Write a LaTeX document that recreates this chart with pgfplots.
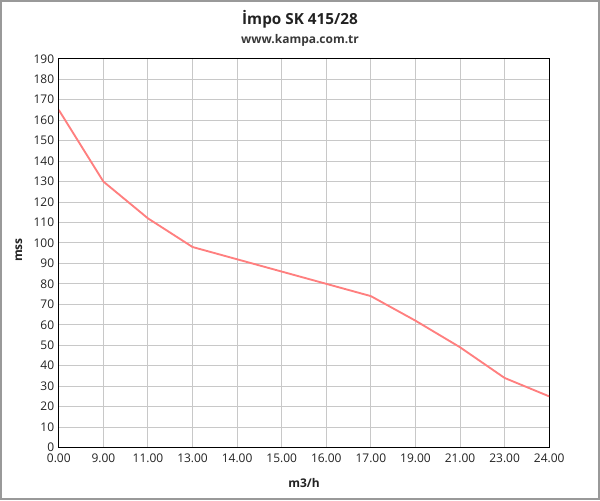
\documentclass[border=0pt]{standalone}
\usepackage{pgfplots}
\pgfplotsset{compat=1.18}
\usepackage{fontspec}
\setmainfont{Open Sans}
\definecolor{linered}{HTML}{FF7F7F}
\definecolor{gridgray}{HTML}{C8C8C8}
\definecolor{txt}{HTML}{222222}
\begin{document}
\begin{tikzpicture}
\draw[gray!80, line width=1.5pt] (0pt,0pt) rectangle (450pt,375pt);
\node[font=\fontsize{11.5}{13}\selectfont\bfseries, text=txt] at (225pt,361.5pt) {İmpo SK 415/28};
\node[font=\fontsize{9}{11}\selectfont\bfseries, text=txt!90] at (225pt,345pt) {www.kampa.com.tr};
\node[font=\fontsize{9}{11}\selectfont\bfseries, text=txt, rotate=90] at (13.5pt,187.5pt) {mss};
\node[font=\fontsize{9}{11}\selectfont\bfseries, text=txt] at (228pt,12pt) {m3/h};
\begin{axis}[
  at={(43.5pt,39pt)}, anchor=south west,
  scale only axis, width=369pt, height=292.5pt,
  xmin=0, xmax=11, ymin=0, ymax=190,
  xtick={0,...,11},
  xticklabels={0.00,9.00,11.00,13.00,14.00,15.00,16.00,17.00,19.00,21.00,23.00,24.00},
  ytick={0,10,...,190},
  grid=major, major grid style={gridgray, line width=0.75pt},
  axis line style={black, line width=0.9pt},
  tick style={draw=none},
  tick label style={font=\fontsize{9}{11}\selectfont, text=txt},
  /pgf/number format/assume math mode=true,
  xticklabel style={yshift=-1pt},
]
\addplot[linered, line width=1.4pt] coordinates {
  (0,165) (1,130) (2,112) (3,98) (4,92) (5,86)
  (6,80) (7,74) (8,62) (9,49) (10,34) (11,25)
};
\end{axis}
\end{tikzpicture}
\end{document}
